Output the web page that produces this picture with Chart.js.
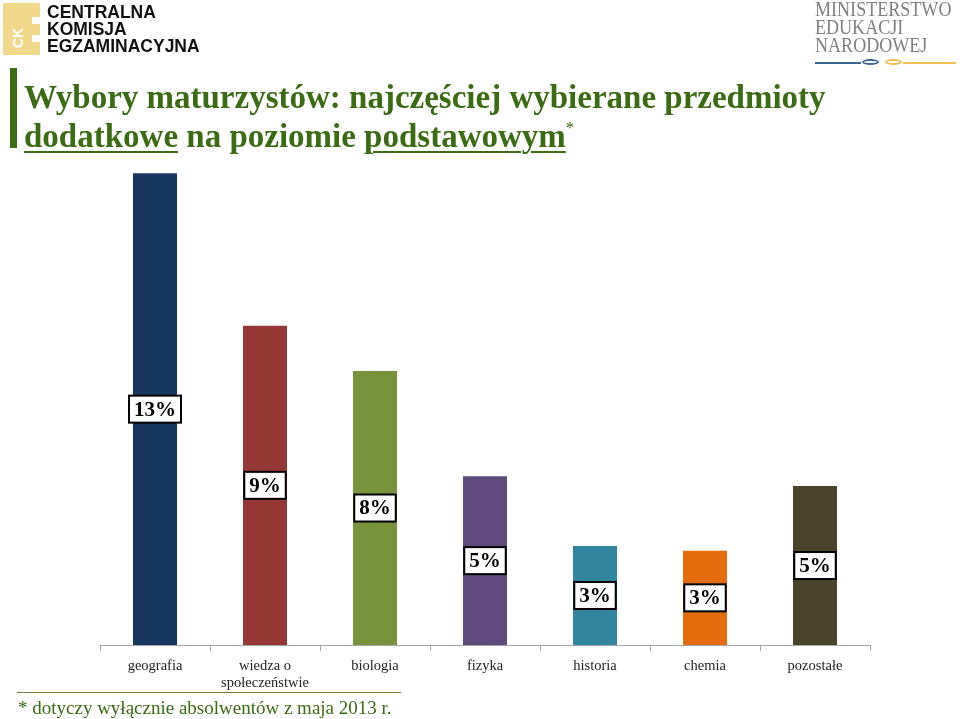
<!DOCTYPE html>
<html>
<head>
<meta charset="utf-8">
<script src="https://cdn.jsdelivr.net/npm/chart.js@4/dist/chart.umd.min.js"></script>
<style>
  body{margin:0;background:#fff;}
  #wrap{position:relative;width:960px;height:719px;overflow:hidden;font-family:"Liberation Serif",serif;}
  #chart{position:absolute;left:0;top:0;}
  .abs{position:absolute;white-space:nowrap;}
  #title{left:24px;top:78px;font-weight:bold;font-size:33px;line-height:39px;color:#3b6b13;}
  #title u{text-decoration-thickness:2px;text-underline-offset:4px;}
  #title sup{font-size:17px;font-weight:normal;position:relative;top:-14px;vertical-align:baseline;line-height:0;}
  #tbar{left:10px;top:68px;width:7px;height:80px;background:#3b6b13;}
  #cke{left:3px;top:3px;width:37px;height:52px;background:#f0d98a;}
  .cg{position:absolute;background:#fff;}
  #ck{left:10px;color:#fff;font:bold 14px "Liberation Sans",sans-serif;transform:rotate(-90deg);transform-origin:left top;}
  #cketext{left:47px;top:4px;font:bold 17.5px/17px "Liberation Sans",sans-serif;color:#111;}
  #men{left:815px;top:0px;font:21px/18px "Liberation Serif",serif;color:#7f7f7f;transform:scaleX(0.86);transform-origin:left top;}
  #mline1{left:815px;top:62px;width:46px;height:2px;background:#3d6591;}
  #mline2{left:903px;top:62px;width:53px;height:2px;background:#efbe4f;}
  .loop{position:absolute;top:59px;width:17px;height:6px;border-radius:50%;border:2px solid #3d6591;box-sizing:border-box;}
  #foot{left:18px;top:697px;font-size:19px;color:#3b6b13;}
  #fline{left:17px;top:692px;width:384px;height:1px;background:#6b7f3a;}
</style>
</head>
<body>
<div id="wrap">
  <canvas id="chart" width="960" height="719"></canvas>
  <div class="abs" id="cke">
    <div class="cg" style="left:29px;top:14px;width:8px;height:7px"></div>
    <div class="cg" style="left:29px;top:32px;width:8px;height:7px"></div>
  </div>
  <div class="abs" id="ck" style="top:48px">CK</div>
  <div class="abs" id="cketext">CENTRALNA<br>KOMISJA<br>EGZAMINACYJNA</div>
  <div class="abs" id="men">MINISTERSTWO<br>EDUKACJI<br>NARODOWEJ</div>
  <div class="abs" id="mline1"></div>
  <div class="loop" style="left:862px"></div>
  <div class="loop" style="left:885px;border-color:#efbe4f"></div>
  <div class="abs" id="mline2"></div>
  <div class="abs" id="tbar"></div>
  <div class="abs" id="title">Wybory maturzystów: najczęściej wybierane przedmioty<br><u>dodatkowe</u> na poziomie <u>podstawowym</u><sup>*</sup></div>
  <div class="abs" id="fline"></div>
  <div class="abs" id="foot">* dotyczy wyłącznie absolwentów z maja 2013 r.</div>
</div>
<script>
const subjects = ["geografia", ["wiedza o", "społeczeństwie"], "biologia", "fizyka", "historia", "chemia", "pozostałe"];
const shares = [13.0, 8.8, 7.55, 4.65, 2.73, 2.6, 4.38];
const shareLabels = ["13%", "9%", "8%", "5%", "3%", "3%", "5%"];
const barColors = ["#17375e", "#953735", "#77933c", "#604a7b", "#31859c", "#e46c0a", "#494429"];

function qs(id){ return document.getElementById(id); }

// boxed percentage labels in the middle of each bar
const boxLabels = {
  id: "boxLabels",
  afterDatasetsDraw(c){
    const ctx = c.ctx;
    const meta = c.getDatasetMeta(0);
    ctx.save();
    ctx.font = "bold 21px 'Liberation Serif', serif";
    ctx.textAlign = "center";
    ctx.textBaseline = "middle";
    meta.data.forEach((bar, i) => {
      const txt = shareLabels[i];
      const cy = (bar.y + bar.base) / 2;
      const w = ctx.measureText(txt).width + 10;
      const h = 27;
      ctx.fillStyle = "#fff";
      ctx.fillRect(bar.x - w / 2, cy - h / 2, w, h);
      ctx.lineWidth = 2;
      ctx.strokeStyle = "#000";
      ctx.strokeRect(bar.x - w / 2, cy - h / 2, w, h);
      ctx.fillStyle = "#000";
      ctx.fillText(txt, bar.x, cy + 1);
    });
    ctx.restore();
  }
};

new Chart(qs("chart"), {
  type: "bar",
  data: {
    labels: subjects,
    datasets: [{ data: shares, backgroundColor: barColors, barPercentage: 0.4, categoryPercentage: 1 }]
  },
  options: {
    responsive: false,
    animation: false,
    layout: { padding: { left: 100, right: 90, top: 137, bottom: 14 } },
    plugins: { legend: { display: false }, tooltip: { enabled: false } },
    scales: {
      y: { display: false, min: 0, max: 14 },
      x: {
        afterFit(s){ s.height = 60; },
        grid: { drawOnChartArea: false, tickLength: 6, color: "#a6a6a6" },
        border: { color: "#a6a6a6", width: 1 },
        ticks: { color: "#222", padding: 6, maxRotation: 0, font: { family: "'Liberation Serif', serif", size: 14.5 } }
      }
    }
  },
  plugins: [boxLabels]
});
</script>
</body>
</html>
